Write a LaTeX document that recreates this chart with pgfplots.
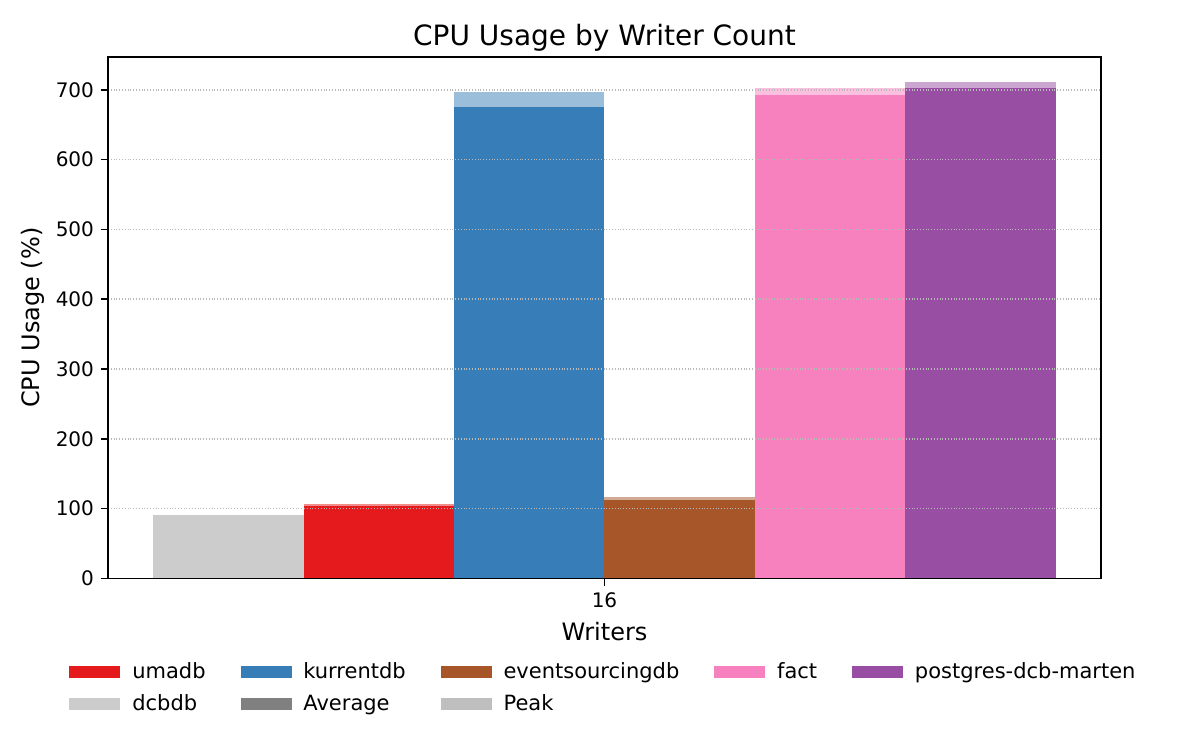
\documentclass[border=0pt]{standalone}
\usepackage{pgfplots}
\pgfplotsset{compat=1.18}
\usepackage{fontspec}
\setmainfont{DejaVu Sans}
\definecolor{cred}{HTML}{E41A1C}
\definecolor{cblue}{HTML}{377EB8}
\definecolor{cbrown}{HTML}{A65628}
\definecolor{cpink}{HTML}{F781BF}
\definecolor{cpurple}{HTML}{984EA3}
\definecolor{cgray}{HTML}{CCCCCC}
\definecolor{cavg}{HTML}{808080}
\definecolor{cpeak}{HTML}{BFBFBF}
\begin{document}
\begin{tikzpicture}
\path[use as bounding box] (-54pt,-85.75pt) rectangle (546pt,289.25pt);
\begin{axis}[
  at={(0pt,0pt)}, anchor=south west,
  scale only axis, width=496.5pt, height=260.75pt,
  xmin=-3.3, xmax=3.3, ymin=0, ymax=747,
  xtick={0}, xticklabels={16},
  ytick={0,100,200,300,400,500,600,700},
  tick align=outside, major tick length=3.5pt,
  every tick/.style={black, line width=0.8pt},
  axis line style={line width=0.8pt, black},
  xtick pos=bottom, ytick pos=left,
  ymajorgrids, grid style={densely dotted, gray!55, line width=0.8pt},
  axis on top,
  /pgf/number format/assume math mode=true,
  tick label style={font=\fontsize{10}{12}\selectfont},
  title={CPU Usage by Writer Count},
  title style={at={(0.5,1)}, anchor=base, font=\fontsize{14}{16}\selectfont},
  xlabel={Writers},
  xlabel style={at={(axis description cs:0.5,0)}, anchor=center, yshift=-26.75pt, font=\fontsize{12}{14}\selectfont},
  ylabel={CPU Usage (\%)},
  ylabel style={at={(axis description cs:-0.0755,0.5)}, anchor=center, font=\fontsize{12}{14}\selectfont},
  legend columns=5,
  legend style={at={(0.5,-0.145)}, anchor=north, draw=none, fill=none,
    font=\fontsize{10.5}{12.5}\selectfont, column sep=15.5pt, row sep=2.5pt,
    /tikz/every odd column/.style={column sep=4pt}},
  legend cell align=left,
]
% peak bars (lighter, behind)
\addplot[ybar, bar width=1, bar shift=0, draw=none, fill=cgray, fill opacity=0.5, forget plot] coordinates {(-2.5,91.5)};
\addplot[ybar, bar width=1, bar shift=0, draw=none, fill=cred, fill opacity=0.5, forget plot] coordinates {(-1.5,106.7)};
\addplot[ybar, bar width=1, bar shift=0, draw=none, fill=cblue, fill opacity=0.5, forget plot] coordinates {(-0.5,697)};
\addplot[ybar, bar width=1, bar shift=0, draw=none, fill=cbrown, fill opacity=0.5, forget plot] coordinates {(0.5,116.8)};
\addplot[ybar, bar width=1, bar shift=0, draw=none, fill=cpink, fill opacity=0.5, forget plot] coordinates {(1.5,702.7)};
\addplot[ybar, bar width=1, bar shift=0, draw=none, fill=cpurple, fill opacity=0.5, forget plot] coordinates {(2.5,711.3)};
% average bars
\addplot[ybar, bar width=1, bar shift=0, draw=none, fill=cgray, forget plot] coordinates {(-2.5,90.7)};
\addplot[ybar, bar width=1, bar shift=0, draw=none, fill=cred, forget plot] coordinates {(-1.5,103.9)};
\addplot[ybar, bar width=1, bar shift=0, draw=none, fill=cblue, forget plot] coordinates {(-0.5,675.5)};
\addplot[ybar, bar width=1, bar shift=0, draw=none, fill=cbrown, forget plot] coordinates {(0.5,112.5)};
\addplot[ybar, bar width=1, bar shift=0, draw=none, fill=cpink, forget plot] coordinates {(1.5,692.7)};
\addplot[ybar, bar width=1, bar shift=0, draw=none, fill=cpurple, forget plot] coordinates {(2.5,702.7)};
% legend
\addlegendimage{legend image code/.code={\fill[cred] (0pt,-2.6pt) rectangle (25pt,2.6pt);}}
\addlegendentry{umadb}
\addlegendimage{legend image code/.code={\fill[cblue] (0pt,-2.6pt) rectangle (25pt,2.6pt);}}
\addlegendentry{kurrentdb}
\addlegendimage{legend image code/.code={\fill[cbrown] (0pt,-2.6pt) rectangle (25pt,2.6pt);}}
\addlegendentry{eventsourcingdb}
\addlegendimage{legend image code/.code={\fill[cpink] (0pt,-2.6pt) rectangle (25pt,2.6pt);}}
\addlegendentry{fact}
\addlegendimage{legend image code/.code={\fill[cpurple] (0pt,-2.6pt) rectangle (25pt,2.6pt);}}
\addlegendentry{postgres-dcb-marten}
\addlegendimage{legend image code/.code={\fill[cgray] (0pt,-2.6pt) rectangle (25pt,2.6pt);}}
\addlegendentry{dcbdb}
\addlegendimage{legend image code/.code={\fill[cavg] (0pt,-2.6pt) rectangle (25pt,2.6pt);}}
\addlegendentry{Average}
\addlegendimage{legend image code/.code={\fill[cpeak] (0pt,-2.6pt) rectangle (25pt,2.6pt);}}
\addlegendentry{Peak}
\end{axis}
\end{tikzpicture}
\end{document}
